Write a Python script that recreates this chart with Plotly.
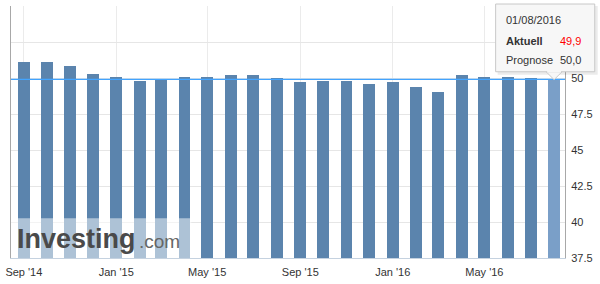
import plotly.graph_objects as go

# ---- data ----
dates = [
    "2014-09-01", "2014-10-01", "2014-11-01", "2014-12-01",
    "2015-01-01", "2015-02-01", "2015-03-01", "2015-04-01",
    "2015-05-01", "2015-06-01", "2015-07-01", "2015-08-01",
    "2015-09-01", "2015-10-01", "2015-11-01", "2015-12-01",
    "2016-01-01", "2016-02-01", "2016-03-01", "2016-04-01",
    "2016-05-01", "2016-06-01", "2016-07-01", "2016-08-01",
]
values = [51.1, 51.1, 50.8, 50.3, 50.1, 49.8, 49.9, 50.1,
          50.1, 50.2, 50.2, 50.0, 49.7, 49.8, 49.8, 49.6,
          49.7, 49.4, 49.0, 50.2, 50.1, 50.1, 50.0, 49.9]
forecast = 50.0
y_ticks = [37.5, 40, 42.5, 45, 47.5, 50, 52.5, 55]

# ---- geometry helpers (layout only) ----
W, H = 600, 284
ML, MR, MT, MB = 6, 35, 6, 25
PW, PH = W - ML - MR, H - MT - MB


def px_x(x):
    return (x - ML) / PW


def px_y(y):
    return (H - MB - y) / PH


BAR = "#5b84ad"
BAR_HI = "#7a9fc8"
colors = [BAR] * (len(values) - 1) + [BAR_HI]
FONT = "Liberation Sans, Arial, sans-serif"

fig = go.Figure()
fig.add_trace(go.Bar(
    x=dates, y=values, marker=dict(color=colors, line=dict(width=0)),
    width=15.7 * 86400000, hoverinfo="skip",
))

shapes = []
# current value line
shapes.append(dict(type="line", xref="paper", yref="y", x0=0, x1=1,
                   y0=values[-1], y1=values[-1],
                   line=dict(color="#42a4ff", width=1.2), layer="above"))
# watermark veil
shapes.append(dict(type="rect", xref="paper", yref="paper",
                   x0=0, x1=px_x(188), y0=0, y1=px_y(219),
                   fillcolor="rgba(255,255,255,0.5)", line=dict(width=0),
                   layer="above"))
# tooltip shadow
shapes.append(dict(type="rect", xref="paper", yref="paper",
                   x0=px_x(497), x1=px_x(598), y0=px_y(75), y1=px_y(6),
                   fillcolor="rgba(0,0,0,0.08)", line=dict(width=0),
                   layer="above"))
# tooltip pointer
tx = px_x(554)
shapes.append(dict(type="path", xref="paper", yref="paper",
                   path=f"M {px_x(546)} {px_y(72)} L {tx} {px_y(80)} L {px_x(562)} {px_y(72)} Z",
                   fillcolor="#f7f7f7", line=dict(color="#c8c8c8", width=1),
                   layer="above"))
# tooltip box
shapes.append(dict(type="rect", xref="paper", yref="paper",
                   x0=px_x(495), x1=px_x(595), y0=px_y(72), y1=px_y(4),
                   fillcolor="#f7f7f7", line=dict(color="#c8c8c8", width=1),
                   layer="above"))
# cover border under pointer
shapes.append(dict(type="line", xref="paper", yref="paper",
                   x0=px_x(547), x1=px_x(561), y0=px_y(72), y1=px_y(72),
                   line=dict(color="#f7f7f7", width=1.5), layer="above"))

d = dates[-1]
date_txt = f"{d[8:10]}/{d[5:7]}/{d[0:4]}"
fmt = lambda v: f"{v:.1f}".replace(".", ",")

annotations = [
    dict(text="Investing", xref="paper", yref="paper", x=px_x(10), y=px_y(240),
         xanchor="left", yanchor="middle", showarrow=False,
         font=dict(family=FONT, size=27, color="#4a4a4a", weight="bold")),
    dict(text=".com", xref="paper", yref="paper", x=px_x(133), y=px_y(242),
         xanchor="left", yanchor="middle", showarrow=False,
         font=dict(family=FONT, size=19, color="#666666")),
    dict(text=date_txt, xref="paper", yref="paper", x=px_x(503), y=px_y(20),
         xanchor="left", yanchor="middle", showarrow=False,
         font=dict(family=FONT, size=11, color="#333333")),
    dict(text="<b>Aktuell</b>", xref="paper", yref="paper", x=px_x(503), y=px_y(41),
         xanchor="left", yanchor="middle", showarrow=False,
         font=dict(family=FONT, size=11, color="#333333")),
    dict(text=fmt(values[-1]), xref="paper", yref="paper", x=px_x(583), y=px_y(41),
         xanchor="right", yanchor="middle", showarrow=False,
         font=dict(family=FONT, size=11, color="#ff0000")),
    dict(text="Prognose", xref="paper", yref="paper", x=px_x(503), y=px_y(60),
         xanchor="left", yanchor="middle", showarrow=False,
         font=dict(family=FONT, size=11, color="#333333")),
    dict(text=fmt(forecast), xref="paper", yref="paper", x=px_x(583), y=px_y(60),
         xanchor="right", yanchor="middle", showarrow=False,
         font=dict(family=FONT, size=11, color="#333333")),
]

fig.update_layout(
    width=W, height=H,
    margin=dict(l=ML, r=MR, t=MT, b=MB, pad=0),
    paper_bgcolor="white", plot_bgcolor="white",
    showlegend=False, bargap=0,
    font=dict(family=FONT, size=11, color="#333333"),
    xaxis=dict(
        type="date", range=["2014-08-15", "2016-08-15 10:00"],
        tick0="2014-09-01", dtick="M4", tickformat="%b '%y",
        showgrid=True, gridcolor="#ebebeb", gridwidth=1,
        showline=True, linecolor="#c5d2e0", linewidth=1,
        ticks="", ticklabelstandoff=4,
        tickfont=dict(family=FONT, size=11, color="#333333"),
        zeroline=False, fixedrange=True,
    ),
    yaxis=dict(
        side="right", range=[37.5, 55], tickvals=y_ticks,
        ticktext=[f"{t:g}" for t in y_ticks],
        showgrid=True, gridcolor="#e6e6e6", gridwidth=1,
        showline=True, linecolor="#a8a8a8", linewidth=1, mirror=True,
        ticks="", ticklabelstandoff=3,
        tickfont=dict(family=FONT, size=11, color="#333333"),
        zeroline=False, fixedrange=True,
    ),
    shapes=shapes, annotations=annotations,
)

fig.write_html("out.html")
